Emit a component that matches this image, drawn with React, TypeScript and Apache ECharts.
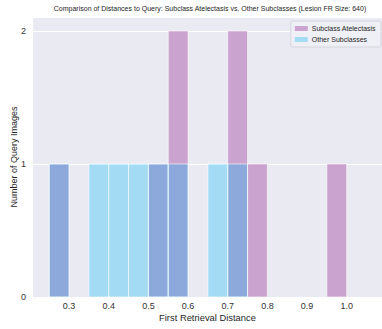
import React, { useEffect, useRef } from "react";
import * as echarts from "echarts";

// Histogram bins (shared by both groups), width 0.05
const binEdges = [0.25, 0.3, 0.35, 0.4, 0.45, 0.5, 0.55, 0.6, 0.65, 0.7, 0.75, 0.8, 0.85, 0.9, 0.95, 1.0];
// Query-image counts per bin
const atelectasisCounts = [1, 0, 0, 0, 0, 1, 2, 0, 0, 2, 1, 0, 0, 0, 1];
const otherCounts = [1, 0, 1, 1, 1, 1, 1, 0, 1, 1, 0, 0, 0, 0, 0];
const xTickLabels = [0.3, 0.4, 0.5, 0.6, 0.7, 0.8, 0.9, 1.0];
const yTicks = [0, 1, 2];

const seriesNames = ["Subclass Atelectasis", "Other Subclasses"];
const FONT = "Liberation Sans, Arial, sans-serif";

function toBins(counts: number[]) {
  return counts
    .map((c, i) => [binEdges[i], binEdges[i + 1], c])
    .filter((d) => d[2] > 0);
}

function histRenderer(fill: string) {
  return (params: any, api: any) => {
    const p0 = api.coord([api.value(0), 0]);
    const p1 = api.coord([api.value(1), api.value(2)]);
    return {
      type: "rect",
      shape: { x: p0[0], y: p1[1], width: p1[0] - p0[0], height: p0[1] - p1[1] },
      style: { fill, stroke: "rgba(255,255,255,0.75)", lineWidth: 0.8 },
    };
  };
}

export default function App() {
  const ref = useRef<HTMLDivElement>(null);

  useEffect(() => {
    if (!ref.current) return;
    const chart = echarts.init(ref.current, undefined, { renderer: "svg" });
    chart.setOption({
      animation: false,
      backgroundColor: "#ffffff",
      textStyle: { fontFamily: FONT },
      grid: {
        left: 33,
        right: 0,
        top: 17,
        bottom: 32,
        outerBoundsMode: "none",
        containLabel: false,
        show: true,
        backgroundColor: "#EAEAF2",
        borderWidth: 0,
      },
      graphic: [
        {
          type: "text",
          x: 210,
          y: 8,
          style: {
            text: "Comparison of Distances to Query: Subclass Atelectasis vs. Other Subclasses (Lesion FR Size: 640)",
            fontSize: 7,
            fontFamily: FONT,
            fill: "#262626",
            align: "center",
            verticalAlign: "middle",
          },
        },
      ],
      legend: {
        orient: "vertical",
        right: 1,
        top: 21,
        itemWidth: 13,
        itemHeight: 5,
        itemGap: 4,
        padding: [4, 5, 4, 4],
        backgroundColor: "rgba(240,240,246,0.9)",
        borderColor: "#d4d4dc",
        borderWidth: 1,
        borderRadius: 2,
        textStyle: { fontSize: 7, color: "#262626", fontFamily: FONT, padding: [0, 0, 0, -1] },
        data: [
          { name: seriesNames[0], icon: "rect", itemStyle: { color: "#CBA3CF" } },
          { name: seriesNames[1], icon: "rect", itemStyle: { color: "#A4DCF4" } },
        ],
      },
      xAxis: {
        type: "value",
        min: 0.209,
        max: 1.089,
        name: "First Retrieval Distance",
        nameLocation: "middle",
        nameGap: 16,
        nameMoveOverlap: false,
        nameTextStyle: { fontSize: 9.4, color: "#262626", fontFamily: FONT },
        axisLine: { show: false },
        axisTick: { show: false },
        splitLine: { show: false },
        axisLabel: {
          customValues: xTickLabels,
          formatter: (v: number) => v.toFixed(1),
          fontSize: 9,
          color: "#333333",
          margin: 4,
          fontFamily: FONT,
        },
      },
      yAxis: {
        type: "value",
        min: 0,
        max: 2.105,
        interval: 1,
        name: "Number of Query Images",
        nameLocation: "middle",
        nameGap: 15,
        nameMoveOverlap: false,
        nameTextStyle: { fontSize: 9, color: "#262626", fontFamily: FONT },
        axisLine: { show: false },
        axisTick: { show: false },
        splitLine: { show: true, lineStyle: { color: "#ffffff", width: 1 } },
        axisLabel: {
          customValues: yTicks,
          fontSize: 9,
          color: "#333333",
          margin: 7,
          fontFamily: FONT,
        },
      },
      series: [
        {
          name: seriesNames[0],
          type: "custom",
          renderItem: histRenderer("#CBA3CF"),
          encode: { x: [0, 1], y: 2 },
          itemStyle: { color: "#CBA3CF" },
          data: toBins(atelectasisCounts),
          clip: true,
        },
        {
          name: seriesNames[1],
          type: "custom",
          renderItem: histRenderer("rgba(0,187,250,0.3)"),
          encode: { x: [0, 1], y: 2 },
          itemStyle: { color: "#A4DCF4" },
          data: toBins(otherCounts),
          clip: true,
        },
      ],
    });
    return () => chart.dispose();
  }, []);

  return (
    <div
      ref={ref}
      style={{ position: "fixed", left: 0, top: 0, width: 382, height: 329 }}
    />
  );
}
